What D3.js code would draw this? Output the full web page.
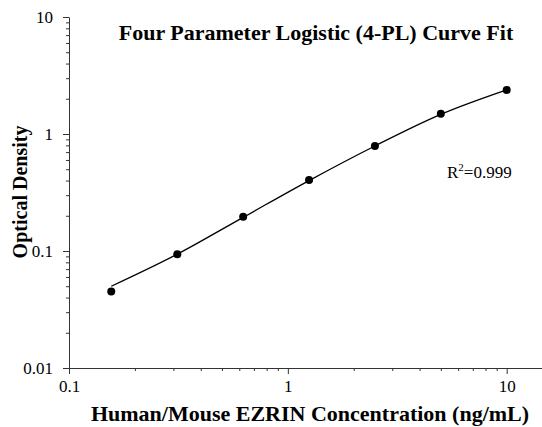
<!DOCTYPE html>
<html>
<head>
<meta charset="utf-8">
<script src="https://cdn.jsdelivr.net/npm/d3@7"></script>
<style>
  body { margin: 0; background: #fff; }
  text { font-family: "Liberation Serif", "Times New Roman", serif; fill: #000; }
  .axis path, .axis line { stroke: #333; }
  .title { font-size: 22px; font-weight: bold; }
  .axis-label { font-weight: bold; }
</style>
</head>
<body>
<svg id="chart" width="542" height="427"></svg>
<script>
// DATA: standards (concentration, OD)
const concentrations = [0.156, 0.3125, 0.625, 1.25, 2.5, 5, 10];
const odValues = [0.045, 0.094, 0.196, 0.405, 0.79, 1.49, 2.38];

// fitted curve
const curveX = [0.156, 0.3125, 0.625, 1.25, 2.5, 5, 10];
const curveY = [0.050, 0.094, 0.194, 0.40, 0.79, 1.47, 2.38];

const xTicks = [0.1, 1, 10];
const yTicks = [0.01, 0.1, 1, 10];
const xTickLabels = ["0.1", "1", "10"];
const yTickLabels = ["0.01", "0.1", "1", "10"];

// SETUP
const margin = { top: 17, right: 0, bottom: 59, left: 69 },
      width = 542 - margin.left - margin.right,
      height = 427 - margin.top - margin.bottom;

const svg = d3.select("#chart")
    .append("g")
    .attr("transform", `translate(${margin.left},${margin.top})`);

// SCALES
const x = d3.scaleLog().domain([0.1, 14.5]).range([0, width]);
const y = d3.scaleLog().domain([0.01, 10]).range([height, 0]);

// minor tick values
const minorX = [], minorY = [];
[0.1, 1].forEach(d => { for (let k = 2; k <= 9; k++) minorX.push(d * k); });
[0.01, 0.1, 1].forEach(d => { for (let k = 2; k <= 9; k++) minorY.push(d * k); });

// AXES
// minor
svg.append("g")
    .attr("class", "axis")
    .attr("transform", `translate(0,${height})`)
    .call(d3.axisBottom(x).tickValues(minorX).tickSize(3).tickFormat(""))
    .call(g => g.select(".domain").remove());
svg.append("g")
    .attr("class", "axis")
    .call(d3.axisLeft(y).tickValues(minorY).tickSize(3).tickFormat(""))
    .call(g => g.select(".domain").remove());

// major
svg.append("g")
    .attr("class", "axis")
    .attr("transform", `translate(0,${height})`)
    .call(d3.axisBottom(x).tickValues(xTicks).tickSize(6).tickSizeOuter(0)
        .tickFormat((d, i) => xTickLabels[i]))
    .call(g => g.selectAll("text")
        .attr("font-family", "Liberation Serif, serif")
        .attr("font-size", 17).attr("y", 12).attr("dy", "0.71em"));

svg.append("g")
    .attr("class", "axis")
    .call(d3.axisLeft(y).tickValues(yTicks).tickSize(6).tickSizeOuter(0)
        .tickFormat((d, i) => yTickLabels[i]))
    .call(g => g.selectAll("text")
        .attr("font-family", "Liberation Serif, serif")
        .attr("font-size", 17).attr("x", -16));

// CURVE
const line = d3.line()
    .x((d, i) => x(curveX[i]))
    .y(d => y(d))
    .curve(d3.curveMonotoneX);

svg.append("path")
    .datum(curveY)
    .attr("d", line)
    .attr("fill", "none")
    .attr("stroke", "#000")
    .attr("stroke-width", 1.3);

// POINTS
svg.selectAll(".dot")
    .data(concentrations)
    .enter().append("circle")
    .attr("class", "dot")
    .attr("cx", d => x(d))
    .attr("cy", (d, i) => y(odValues[i]))
    .attr("r", 4)
    .attr("fill", "#000");

// LABELS
svg.append("text")
    .attr("class", "title")
    .attr("x", 247)
    .attr("y", 23)
    .attr("text-anchor", "middle")
    .text("Four Parameter Logistic (4-PL) Curve Fit");

svg.append("text")
    .attr("class", "axis-label")
    .attr("font-size", 22)
    .attr("x", 241)
    .attr("y", 404)
    .attr("text-anchor", "middle")
    .text("Human/Mouse EZRIN Concentration (ng/mL)");

svg.append("text")
    .attr("class", "axis-label")
    .attr("font-size", 20)
    .attr("transform", `translate(-42, 175) rotate(-90)`)
    .attr("text-anchor", "middle")
    .text("Optical Density");

const r2 = svg.append("text")
    .attr("x", 378)
    .attr("y", 161)
    .attr("font-size", 17);
r2.append("tspan").text("R");
r2.append("tspan").attr("font-size", 11).attr("dy", -7).text("2");
r2.append("tspan").attr("dy", 7).text("=0.999");
</script>
</body>
</html>
